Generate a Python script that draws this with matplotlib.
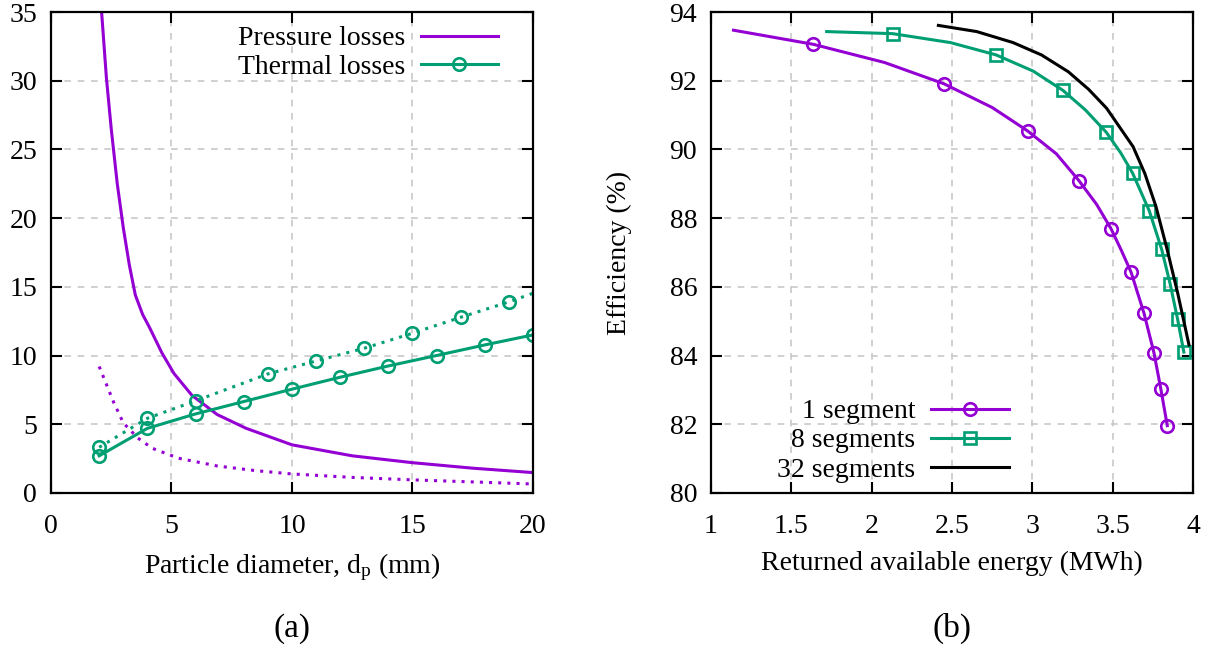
import numpy as np
import matplotlib
matplotlib.use('Agg')
from matplotlib import pyplot as plt

plt.rcParams['font.family'] = ['Liberation Serif', 'DejaVu Serif']
plt.rcParams['font.size'] = 20
plt.rcParams['mathtext.fontset'] = 'custom'
plt.rcParams['mathtext.rm'] = 'Liberation Serif'
plt.rcParams['mathtext.it'] = 'Liberation Serif'

PURPLE = '#9400d3'
GREEN = '#009e73'

# ---- panel (a): losses vs particle diameter ----
press_d = [2.0, 2.1, 2.3, 2.5, 2.75, 3.0, 3.25, 3.5, 3.8, 4.1, 4.6, 5.1, 5.85, 6.9, 8.1, 10, 12.5, 15, 17.5, 20]
press_solid = [38.5, 35, 30.2, 26.5, 22.5, 19.3, 16.6, 14.4, 13.0, 12.0, 10.2, 8.7, 7.1, 5.7, 4.7, 3.5, 2.7, 2.2, 1.8, 1.48]
pressd_d = [2.0, 2.3, 2.6, 3.0, 3.6, 4.2, 5.3, 6.9, 8.5, 10, 12.5, 15, 17.5, 20]
press_dotted = [9.2, 7.9, 6.6, 5.1, 4.0, 3.25, 2.52, 1.96, 1.62, 1.38, 1.13, 0.95, 0.8, 0.65]

therm_d = [2, 4, 6, 8, 10, 12, 14, 16, 18, 20]
therm_solid = [2.7, 4.7, 5.75, 6.65, 7.55, 8.42, 9.24, 10.0, 10.77, 11.5]
thermd_d = [2, 4, 6, 9, 11, 13, 15, 17, 19, 20]
therm_dotted = [3.32, 5.43, 6.7, 8.66, 9.6, 10.53, 11.62, 12.78, 13.9, 14.53]

# ---- panel (b): efficiency vs returned energy ----
seg1_e = [1.14, 1.636, 2.08, 2.45, 2.75, 2.97, 3.15, 3.29, 3.40, 3.49, 3.555, 3.615, 3.695, 3.757, 3.80, 3.84]
seg1_eff = [93.47, 93.06, 92.53, 91.91, 91.22, 90.54, 89.87, 89.09, 88.4, 87.69, 87.05, 86.42, 85.23, 84.08, 83.02, 81.96]
seg1_marks = [1, 3, 5, 7, 9, 11, 12, 13, 14, 15]

seg8_e = [1.72, 2.13, 2.49, 2.775, 3.005, 3.19, 3.33, 3.46, 3.55, 3.624, 3.728, 3.805, 3.858, 3.904, 3.943]
seg8_eff = [93.43, 93.37, 93.11, 92.75, 92.28, 91.72, 91.15, 90.50, 89.9, 89.31, 88.21, 87.09, 86.08, 85.06, 84.10]
seg8_marks = [1, 3, 5, 7, 9, 10, 11, 12, 13, 14]

seg32_e = [2.415, 2.654, 2.88, 3.057, 3.224, 3.35, 3.462, 3.627, 3.70, 3.77, 3.84, 3.905, 3.975]
seg32_eff = [93.61, 93.43, 93.11, 92.75, 92.26, 91.75, 91.20, 90.08, 89.3, 88.33, 87.07, 85.81, 84.31]

fig = plt.figure(figsize=(12.14, 6.49), dpi=100)
ax1 = fig.add_axes([0.042, 0.2405, 0.397, 0.741])
ax2 = fig.add_axes([0.5857, 0.2405, 0.397, 0.741])

mk = dict(markersize=9, markeredgewidth=1.9, markerfacecolor='none')

ax1.plot(press_d, press_solid, color=PURPLE, lw=2.2, label='Pressure losses')
ax1.plot(pressd_d, press_dotted, color=PURPLE, lw=2.2, ls=(0, (1, 2)))
ax1.plot(therm_d, therm_solid, color=GREEN, lw=2.2, marker='o', markeredgecolor=GREEN,
         label='Thermal losses', **mk)
ax1.plot(thermd_d, therm_dotted, color=GREEN, lw=2.2, ls=(0, (1, 2)), marker='o',
         markeredgecolor=GREEN, markevery=list(range(9)), **mk)
ax1.set_xlim(0, 20)
ax1.set_ylim(0, 35)
ax1.set_xticks([0, 5, 10, 15, 20])
ax1.set_yticks(np.arange(0, 36, 5))
ax1.set_xlabel('Particle diameter, d$_\\mathregular{p}$ (mm)', labelpad=9)
ax1.legend(loc='upper right', bbox_to_anchor=(0.957, 1.0), frameon=False, markerfirst=False,
           handlelength=2.8, handletextpad=0.55, labelspacing=0.1, borderaxespad=0.1)

ax2.plot(seg1_e, seg1_eff, color=PURPLE, lw=2.2, marker='o', markeredgecolor=PURPLE,
         markevery=seg1_marks, label='1 segment', **mk)
ax2.plot(seg8_e, seg8_eff, color=GREEN, lw=2.2, marker='s', markeredgecolor=GREEN,
         markevery=seg8_marks, label='8 segments', **mk)
ax2.plot(seg32_e, seg32_eff, color='black', lw=2.2, label='32 segments')
ax2.set_xlim(1, 4)
ax2.set_ylim(80, 94)
ax2.set_xticks([1, 1.5, 2, 2.5, 3, 3.5, 4])
ax2.set_xticklabels(['1', '1.5', '2', '2.5', '3', '3.5', '4'])
ax2.set_yticks(np.arange(80, 95, 2))
ax2.set_xlabel('Returned available energy (MWh)', labelpad=9)
ax2.set_ylabel('Efficiency (%)', labelpad=27)
ax2.legend(loc='lower left', bbox_to_anchor=(0.103, -0.013), frameon=False, markerfirst=False,
           handlelength=2.8, handletextpad=0.55, labelspacing=0.13, borderaxespad=0.2)

for ax in (ax1, ax2):
    ax.grid(True, color='#c8c8c8', lw=1.2, ls=(0, (4, 4)))
    ax.tick_params(direction='in', length=8, width=1.5, top=True, right=True, pad=10)
    ax.tick_params(axis='x', pad=15)
    for s in ax.spines.values():
        s.set_linewidth(1.6)

fig.text(0.2405, 0.032, '(a)', ha='center', va='center', fontsize=24)
fig.text(0.784, 0.032, '(b)', ha='center', va='center', fontsize=24)

fig.savefig('out.png', dpi=100)
